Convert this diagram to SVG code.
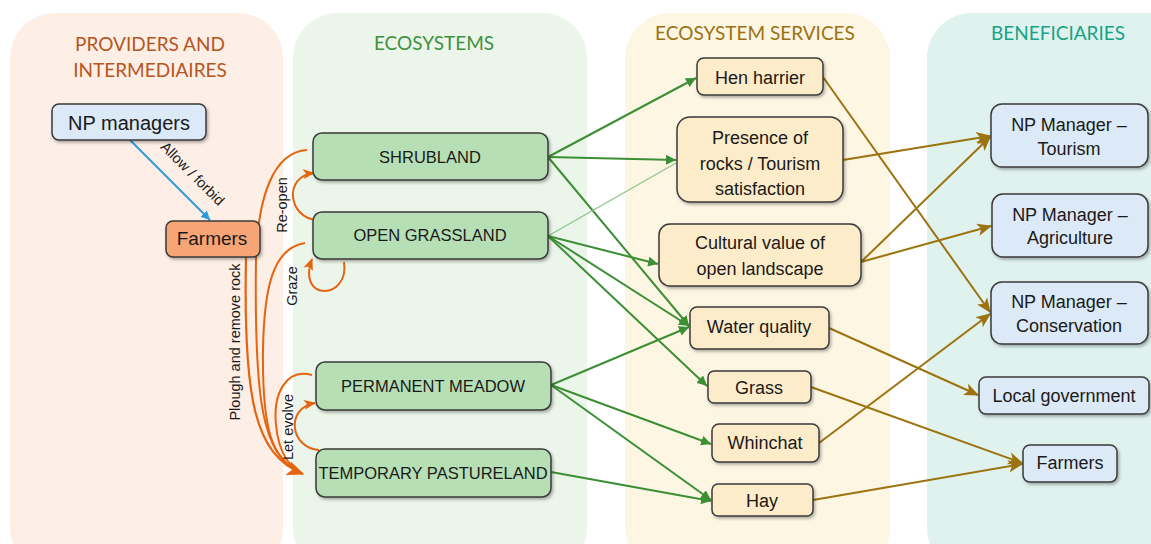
<svg xmlns="http://www.w3.org/2000/svg" width="1151" height="544" viewBox="0 0 1151 544">
<style>
.t{font-family:"Liberation Sans",Arial,sans-serif;fill:#1a1a1a;text-anchor:middle}
.title{font-family:Lato,"Open Sans",sans-serif;font-size:19px;text-anchor:middle}
.eco{font-size:16.5px}
.svc{font-size:18px}
.lbl{font-family:"Liberation Sans",Arial,sans-serif;font-size:14.5px;fill:#1a1a1a;text-anchor:middle}
.box{stroke:#3a3a3a;stroke-width:1.5;filter:url(#sh)}
.blue{fill:#dce9f6}
.org{fill:#f7a577}
.grn{fill:#b6dfb5}
.yel{fill:#fdecc9}
.g{stroke:#3b8f34;stroke-width:2;fill:none;marker-end:url(#ag)}
.y{stroke:#9c730f;stroke-width:2;fill:none;marker-end:url(#ay)}
.o{stroke:#e5640f;stroke-width:2;fill:none}
.oa{stroke:#e5640f;stroke-width:2;fill:none;marker-end:url(#ao)}
</style>
<defs>
<filter id="sh" x="-10%" y="-10%" width="125%" height="140%">
<feDropShadow dx="1.5" dy="2" stdDeviation="1.5" flood-color="#000" flood-opacity="0.3"/>
</filter>
<marker id="ag" viewBox="0 0 10 10" refX="10" refY="5" markerWidth="5" markerHeight="5" orient="auto" markerUnits="strokeWidth"><path d="M0,0 L10,5 L0,10 z" fill="#3b8f34"/></marker>
<marker id="ay" viewBox="0 0 12 10" refX="11" refY="5" markerWidth="7.5" markerHeight="6.5" orient="auto" markerUnits="strokeWidth"><path d="M0,0 L12,5 L0,10 L3,5 z" fill="#9c730f"/></marker>
<marker id="ab" viewBox="0 0 10 10" refX="10" refY="5" markerWidth="5" markerHeight="5" orient="auto" markerUnits="strokeWidth"><path d="M0,0 L10,5 L0,10 z" fill="#2a9ad8"/></marker>
<marker id="ao" viewBox="0 0 12 10" refX="11" refY="5" markerWidth="6" markerHeight="5" orient="auto" markerUnits="strokeWidth"><path d="M0,0 L12,5 L0,10 L3,5 z" fill="#e5640f"/></marker>
<marker id="aob" viewBox="0 0 12 10" refX="11" refY="5" markerWidth="8" markerHeight="7" orient="auto" markerUnits="strokeWidth"><path d="M0,0 L12,5 L0,10 L3,5 z" fill="#e5640f"/></marker>
</defs>
<rect width="1151" height="544" fill="#ffffff"/>
<g id="panels">
<rect x="10" y="13" width="273" height="560" rx="45" fill="#fdefe6"/>
<rect x="293" y="13" width="294" height="560" rx="45" fill="#ecf5e9"/>
<rect x="625" y="13" width="265" height="560" rx="45" fill="#fdf6e3"/>
<rect x="927" y="13" width="270" height="560" rx="45" fill="#dff2ee"/>
<text class="title" x="150" y="51" fill="#b5561e">PROVIDERS AND</text>
<text class="title" x="150" y="77" fill="#b5561e">INTERMEDIAIRES</text>
<text class="title" x="434" y="50" fill="#3f9142">ECOSYSTEMS</text>
<text class="title" x="755" y="40" fill="#9b7213">ECOSYSTEM SERVICES</text>
<text class="title" x="1058" y="40" fill="#17a386">BENEFICIARIES</text>
</g>
<g id="connectors">
<path class="g" d="M548,157 L696,78"/>
<path class="g" d="M548,157 L676,160"/>
<path class="g" d="M548,157 L689,326"/>
<path d="M548,236 L676,163" stroke="#8cc48a" stroke-width="1.2" fill="none"/>
<path class="g" d="M548,236 L658,264"/>
<path class="g" d="M548,236 L689,326"/>
<path class="g" d="M548,236 L707,386"/>
<path class="g" d="M551,385 L689,327"/>
<path class="g" d="M551,385 L711,444"/>
<path class="g" d="M551,385 L711,500"/>
<path class="g" d="M551,472 L711,501"/>
<path class="y" d="M823,77 L990,312"/>
<path class="y" d="M843,160 L990,136"/>
<path class="y" d="M861,262 L990,137"/>
<path class="y" d="M861,262 L991,226"/>
<path class="y" d="M829,328 L978,395"/>
<path class="y" d="M811,387 L1022,463"/>
<path class="y" d="M819,443 L990,314"/>
<path class="y" d="M813,500 L1022,464"/>
<path d="M130,140 L210,220" stroke="#2a9ad8" stroke-width="1.8" fill="none" marker-end="url(#ab)"/>
<text class="lbl" transform="translate(189,177) rotate(45)" font-size="14.5">Allow / forbid</text>
<path class="o" d="M307,150 C272,152 258,200 256,258 C254,400 262,455 300,472"/>
<path class="o" d="M305,243 C272,248 264,290 263,350 C262,430 272,460 300,472"/>
<path class="o" d="M312,375 C285,368 273,395 276,425 C279,455 290,466 300,472"/>
<path d="M246,257 C243,400 255,455 303,474" stroke="#e5640f" stroke-width="2.2" fill="none" marker-end="url(#aob)"/>
<path class="oa" d="M317,220 C288,218 283,176 314,173"/>
<path class="oa" d="M344,262 C350,300 296,302 312,259"/>
<path class="oa" d="M319,450 C290,448 285,408 315,403"/>
<text class="lbl" transform="translate(240,342) rotate(-90)" font-size="15">Plough and remove rock</text>
<text class="lbl" transform="translate(287,205) rotate(-90)">Re-open</text>
<text class="lbl" transform="translate(297,286) rotate(-90)">Graze</text>
<text class="lbl" transform="translate(293,427) rotate(-90)">Let evolve</text>
</g>
<g id="np-managers"><rect class="box blue" x="52" y="104" width="154" height="36" rx="7"/><text class="t" x="129" y="130" font-size="20">NP managers</text></g>
<g id="farmers-left"><rect class="box org" x="166" y="221" width="94" height="36" rx="7"/><text class="t" x="212" y="245" font-size="19">Farmers</text></g>
<g id="shrubland"><rect class="box grn" x="313" y="133" width="235" height="47" rx="9"/><text class="t eco" x="430" y="163">SHRUBLAND</text></g>
<g id="open-grassland"><rect class="box grn" x="313" y="212" width="235" height="47" rx="9"/><text class="t eco" x="430" y="241">OPEN GRASSLAND</text></g>
<g id="permanent-meadow"><rect class="box grn" x="316" y="362" width="235" height="48" rx="9"/><text class="t eco" x="433" y="392">PERMANENT MEADOW</text></g>
<g id="temporary-pastureland"><rect class="box grn" x="316" y="449" width="235" height="48" rx="9"/><text class="t eco" x="433" y="479">TEMPORARY PASTURELAND</text></g>
<g id="hen-harrier"><rect class="box yel" x="697" y="58" width="126" height="37" rx="7"/><text class="t svc" x="760" y="84">Hen harrier</text></g>
<g id="presence-rocks"><rect class="box yel" x="677" y="117" width="166" height="85" rx="13"/><text class="t svc" x="760" y="144">Presence of</text><text class="t svc" x="760" y="170">rocks / Tourism</text><text class="t svc" x="760" y="195">satisfaction</text></g>
<g id="cultural-value"><rect class="box yel" x="659" y="224" width="202" height="62" rx="11"/><text class="t svc" x="760" y="249">Cultural value of</text><text class="t svc" x="760" y="275">open landscape</text></g>
<g id="water-quality"><rect class="box yel" x="690" y="307" width="139" height="42" rx="7"/><text class="t svc" x="759" y="333">Water quality</text></g>
<g id="grass"><rect class="box yel" x="708" y="371" width="103" height="32" rx="6"/><text class="t svc" x="759" y="394">Grass</text></g>
<g id="whinchat"><rect class="box yel" x="712" y="424" width="107" height="38" rx="7"/><text class="t svc" x="765" y="449">Whinchat</text></g>
<g id="hay"><rect class="box yel" x="712" y="484" width="101" height="32" rx="6"/><text class="t svc" x="762" y="507">Hay</text></g>
<g id="np-tourism"><rect class="box blue" x="991" y="104" width="157" height="63" rx="11"/><text class="t svc" x="1069" y="131">NP Manager –</text><text class="t svc" x="1069" y="155">Tourism</text></g>
<g id="np-agriculture"><rect class="box blue" x="992" y="194" width="156" height="63" rx="11"/><text class="t svc" x="1070" y="221">NP Manager –</text><text class="t svc" x="1070" y="244">Agriculture</text></g>
<g id="np-conservation"><rect class="box blue" x="991" y="282" width="157" height="62" rx="11"/><text class="t svc" x="1069" y="308">NP Manager –</text><text class="t svc" x="1069" y="332">Conservation</text></g>
<g id="local-government"><rect class="box blue" x="979" y="377" width="170" height="37" rx="7"/><text class="t svc" x="1064" y="402">Local government</text></g>
<g id="farmers-right"><rect class="box blue" x="1023" y="445" width="94" height="37" rx="7"/><text class="t svc" x="1070" y="469">Farmers</text></g>
</svg>
